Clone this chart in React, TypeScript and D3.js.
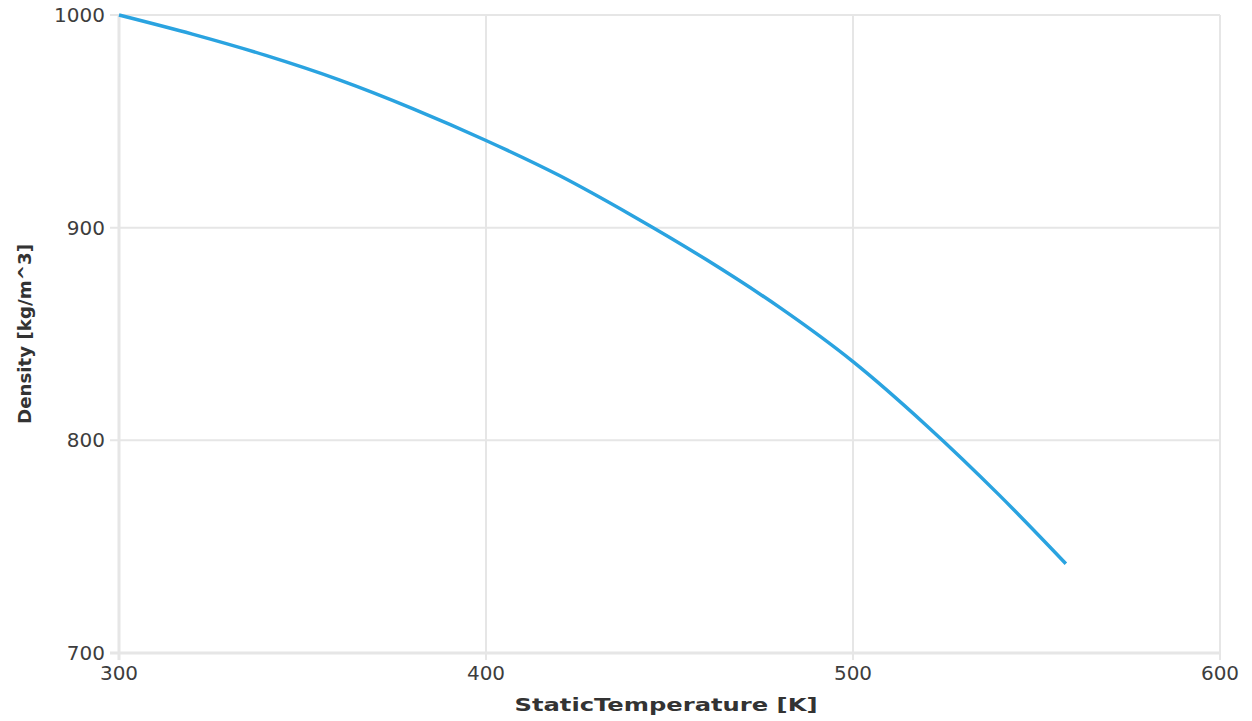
import { scaleLinear, line, curveMonotoneX } from "d3";

// density of the fluid vs static temperature
const temperature = [300, 320, 340, 360, 380, 400, 420, 440, 460, 480, 500, 520, 540, 558];
const density = [1000, 991, 981, 969.5, 956, 941, 924.5, 905.5, 885, 862.5, 837, 807, 774, 742];
const xTicks = [300, 400, 500, 600];
const yTicks = [700, 800, 900, 1000];

const W = 1252;
const H = 721;
const margin = { left: 119, right: 32, top: 15, bottom: 68 };

const App = () => {
  const x = scaleLinear().domain([300, 600]).range([margin.left, W - margin.right]);
  const y = scaleLinear().domain([700, 1000]).range([H - margin.bottom, margin.top]);

  const path = line<number>()
    .x((_, i) => x(temperature[i]))
    .y((d) => y(d))
    .curve(curveMonotoneX);

  const gridColor = "#e6e6e6";
  const textColor = "#3d3d3d";
  const font = "Verdana, 'DejaVu Sans', sans-serif";

  return (
    <svg width={W} height={H} style={{ position: "absolute", left: 0, top: 0, background: "#fff" }}>
      {/* grid */}
      {xTicks.map((t) => (
        <line key={"gx" + t} x1={x(t)} x2={x(t)} y1={y(1000)} y2={y(700) + 7}
          stroke={gridColor} strokeWidth={t === 300 ? 3 : 2} />
      ))}
      {yTicks.map((t) => (
        <line key={"gy" + t} x1={x(300) - 9} x2={x(600)} y1={y(t)} y2={y(t)}
          stroke={gridColor} strokeWidth={t === 700 ? 3 : 2} />
      ))}

      {/* tick labels */}
      {xTicks.map((t) => (
        <text key={"tx" + t} x={x(t)} y={y(700) + 27} textAnchor="middle"
          fontFamily={font} fontSize={20} fill={textColor}>{t}</text>
      ))}
      {yTicks.map((t) => (
        <text key={"ty" + t} x={x(300) - 14} y={y(t) + 7} textAnchor="end"
          fontFamily={font} fontSize={20} fill={textColor}>{t}</text>
      ))}

      {/* axis titles */}
      <text x={666} y={711} textAnchor="middle" fontFamily={font} fontSize={18} fontWeight="bold"
        fill="#333" textLength={303} lengthAdjust="spacingAndGlyphs">StaticTemperature [K]</text>
      <text transform="translate(31,334) rotate(-90)" textAnchor="middle" fontFamily={font} fontSize={18}
        fontWeight="bold" fill="#333" textLength={180} lengthAdjust="spacingAndGlyphs">Density [kg/m^3]</text>

      {/* curve */}
      <path d={path(density) || ""} fill="none" stroke="#2aa3e0" strokeWidth={3.5} />
    </svg>
  );
};

export default App;
